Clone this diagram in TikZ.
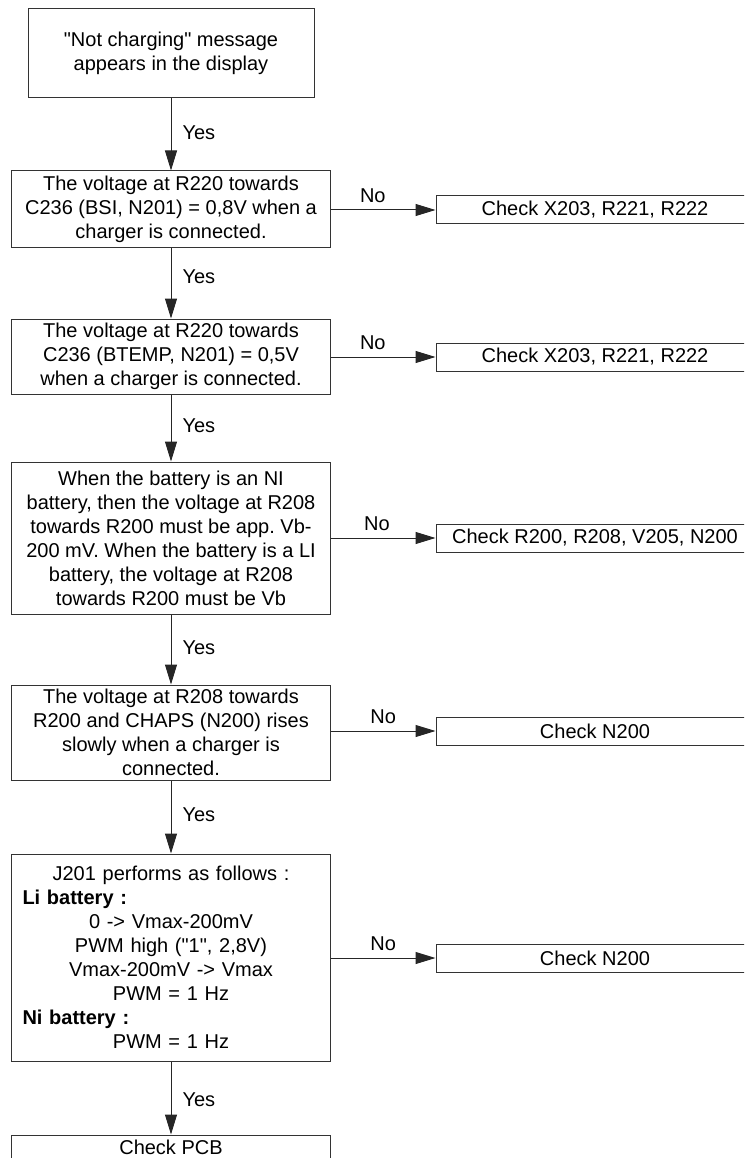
\documentclass[tikz,border=0pt]{standalone}
\usepackage{fontspec}
\setmainfont{Liberation Sans}[Ligatures=TeXOff]
\usetikzlibrary{arrows.meta}
\frenchspacing
\begin{document}
\begin{tikzpicture}[x=1pt,y=-1pt,
  every node/.style={font=\fontsize{20}{24}\selectfont},
  box/.style={draw=black!80, line width=1pt, rectangle, inner sep=0pt, align=center, fill=white},
  side/.style={box, minimum width=318pt, minimum height=28pt},
  main/.style={box, minimum width=319pt},
  conn/.style={draw=black!85, line width=1pt, -{Triangle[length=20pt,width=12pt]}},
  lbl/.style={inner sep=0pt, fill=none, draw=none}
]
\useasboundingbox (0,0) rectangle (744,1158);
\clip (0,0) rectangle (744,1158);

% main column
\node[box, minimum width=286pt, minimum height=89pt] (b1) at (171,53.5)
  {"Not charging" message\\appears in the display};
\node[main, minimum height=77pt] (b2) at (171,209.5)
  {The voltage at R220 towards\\C236 (BSI, N201) = 0,8V when a\\charger is connected.};
\node[main, minimum height=75pt] (b3) at (171,356.5)
  {The voltage at R220 towards\\C236 (BTEMP, N201) = 0,5V\\when a charger is connected.};
\node[main, minimum height=152pt] (b4) at (171,538)
  {When the battery is an NI\\battery, then the voltage at R208\\towards R200 must be app. Vb-\\200 mV. When the battery is a LI\\battery, the voltage at R208\\towards R200 must be Vb};
\node[main, minimum height=95pt] (b5) at (171,732.5)
  {The voltage at R208 towards\\R200 and CHAPS (N200) rises\\slowly when a charger is\\connected.};
\node[main, minimum height=207pt, text width=297pt] (b6) at (171,957.5)
  {J201 performs as follows :\\
   \makebox[297pt][l]{\bfseries Li battery :}\\
   0 -> Vmax-200mV\\
   PWM high ("1", 2,8V)\\
   Vmax-200mV -> Vmax\\
   PWM = 1 Hz\\
   \makebox[297pt][l]{\bfseries Ni battery :}\\
   PWM = 1 Hz};
\node[main, minimum height=24pt] (b7) at (171,1147) {Check PCB};

% side column
\node[side] (c2) at (595,210) {Check X203, R221, R222};
\node[side] (c3) at (595,357) {Check X203, R221, R222};
\node[side] (c4) at (595,538) {Check R200, R208, V205, N200};
\node[side] (c5) at (595,731) {Check N200};
\node[side] (c6) at (595,958) {Check N200};

% Yes connectors
\draw[conn] (b1) -- node[lbl, pos=0.47, anchor=west, xshift=11pt] {Yes} (b2);
\draw[conn] (b2) -- node[lbl, pos=0.40, anchor=west, xshift=11pt] {Yes} (b3);
\draw[conn] (b3) -- node[lbl, pos=0.46, anchor=west, xshift=11pt] {Yes} (b4);
\draw[conn] (b4) -- node[lbl, pos=0.48, anchor=west, xshift=11pt] {Yes} (b5);
\draw[conn] (b5) -- node[lbl, pos=0.47, anchor=west, xshift=11pt] {Yes} (b6);
\draw[conn] (b6) -- node[lbl, pos=0.52, anchor=west, xshift=11pt] {Yes} (b7);

% No connectors
\draw[conn] (b2.east |- c2.west) -- node[lbl, pos=0.40, above, yshift=7pt] {No} (c2.west);
\draw[conn] (b3.east |- c3.west) -- node[lbl, pos=0.40, above, yshift=7pt] {No} (c3.west);
\draw[conn] (b4.east |- c4.west) -- node[lbl, pos=0.44, above, yshift=7pt] {No} (c4.west);
\draw[conn] (b5.east |- c5.west) -- node[lbl, pos=0.50, above, yshift=7pt] {No} (c5.west);
\draw[conn] (b6.east |- c6.west) -- node[lbl, pos=0.50, above, yshift=7pt] {No} (c6.west);
\end{tikzpicture}
\end{document}
